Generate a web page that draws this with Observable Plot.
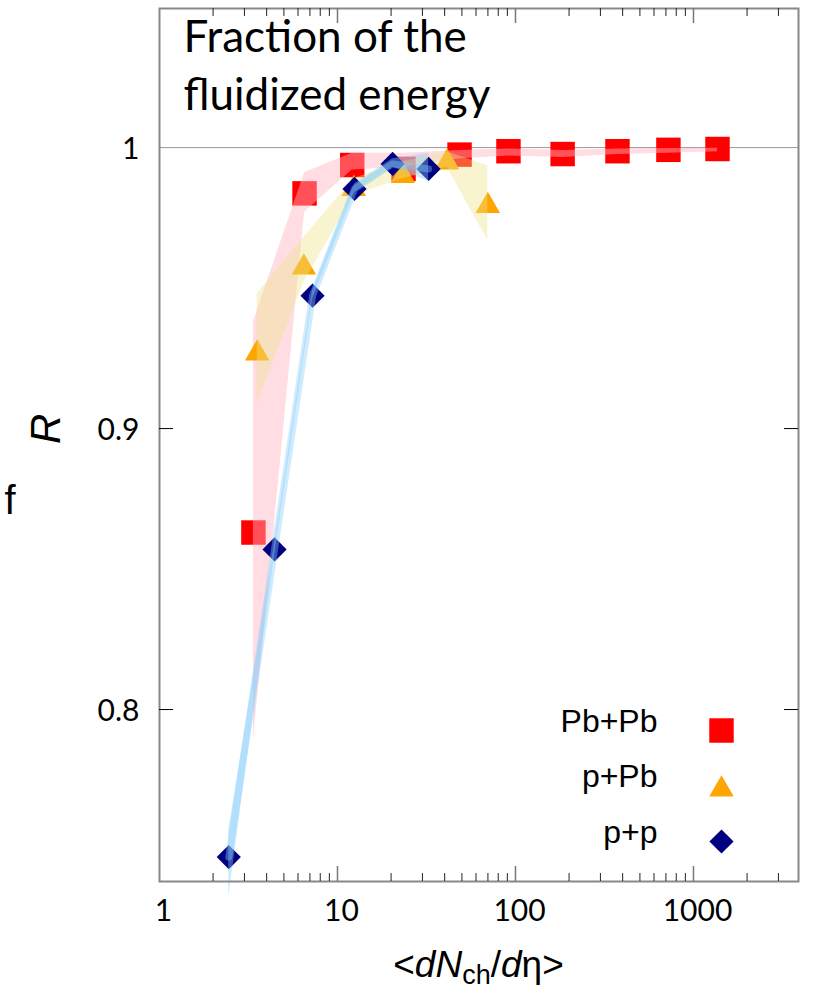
<!DOCTYPE html>
<html><head><meta charset="utf-8">
<script src="https://cdn.jsdelivr.net/npm/d3@7"></script>
<script src="https://cdn.jsdelivr.net/npm/@observablehq/plot@0.6"></script>
<style>body{margin:0;background:#fff} #chart{width:813px;height:993px}</style>
</head><body><div id="chart"></div>
<script>
// ---- data ----
const pbpbX  = [3.37, 6.53, 12.1, 23.5, 48.5, 91.3, 184, 374, 723, 1364];
const pbpbY  = [0.863, 0.9837, 0.9938, 0.9924, 0.9975, 0.9987, 0.9977, 0.9987, 0.9992, 0.9995];
const pbpbLo = [0.789, 0.977, 0.992, 0.993, 0.996, 0.997, 0.9965, 0.9975, 0.998, 0.9985];
const pbpbHi = [0.938, 0.991, 0.998, 0.998, 0.999, 0.9995, 0.999, 0.9995, 0.9997, 0.9998];

const ppbX  = [3.54, 6.47, 12.35, 23.3, 41.3, 69.9];
const ppbY  = [0.928, 0.9586, 0.9865, 0.9912, 0.996, 0.9805];
const ppbLo = [0.909, 0.952, 0.983, 0.989, 0.993, 0.967];
const ppbHi = [0.948, 0.968, 0.989, 0.995, 0.9985, 0.9935];

const ppX  = [2.45, 4.43, 7.24, 12.46, 20.4, 32.5];
const ppY  = [0.7475, 0.857, 0.9473, 0.9853, 0.9942, 0.9924];
const ppLo = [0.733, 0.855, 0.946, 0.984, 0.993, 0.988];
const ppHi = [0.757, 0.859, 0.949, 0.987, 0.996, 0.998];

const seriesNames = ["Pb+Pb", "p+Pb", "p+p"];
const xTickLabels = [1, 10, 100, 1000];
const xMajorTicks = [10, 100, 1000];
const xMinorTicks = [2,3,4,5,6,7,8,9,20,30,40,50,60,70,80,90,200,300,400,500,600,700,800,900,2000,3000];
const yTickLabels = [0.8, 0.9, 1];
const yTicks = [0.8, 0.9];
const refLine = [1];
const titleText = "Fraction of the\nfluidized energy";

// ---- layout / style ----
const W = 813, H = 993;
const mL = 159, mR = 15, mT = 8, mB = 112;
const innerW = W - mL - mR, innerH = H - mT - mB;
const tickFont = "Lato, 'Liberation Sans', sans-serif";
const sansFont = "'Liberation Sans', Arial, sans-serif";

const styles = [
  {symbol: "square",   fill: "#ff0000", r: 13.8, dy: 0,   band: "#ffb3c0", bandOp: 0.45},
  {symbol: "triangle", fill: "#ffa500", r: 9.1,  dy: 3.5, band: "#eee48a", bandOp: 0.40},
  {symbol: "diamond2", fill: "#000080", r: 10.9, dy: 0,   band: "#87cefa", bandOp: 0.40}
];
const seriesData = [
  [pbpbX, pbpbY, pbpbLo, pbpbHi],
  [ppbX, ppbY, ppbLo, ppbHi],
  [ppX, ppY, ppLo, ppHi]
].map(([xs, ys, lo, hi]) => xs.map((x, i) => ({x, y: ys[i], lo: lo[i], hi: hi[i]})));

const seriesMarks = seriesData.flatMap((data, k) => {
  const s = styles[k];
  const marks = [
    Plot.dot(data, {x: "x", y: "y", symbol: () => s.symbol, fill: s.fill, r: s.r, dy: s.dy, stroke: "none"}),
    Plot.areaY(data, {x: "x", y1: "lo", y2: "hi", fill: s.band, fillOpacity: s.bandOp})
  ];
  if (k === 2) marks.push(Plot.line(data, {x: "x", y: "y", stroke: s.band, strokeOpacity: s.bandOp, strokeWidth: 7}));
  return marks;
});

const legendMarks = seriesNames.flatMap((name, i) => [
  Plot.dot([name], {frameAnchor: "bottom-right", dx: -77, dy: -151 + 55.5 * i + styles[i].dy,
    symbol: () => styles[i].symbol, fill: styles[i].fill, r: styles[i].r}),
  Plot.text([name], {frameAnchor: "bottom-right", dx: -141, dy: -150 + 55.5 * i, text: d => d,
    textAnchor: "end", fontSize: 32, fontFamily: sansFont, fill: "#000"})
]);

const chart = Plot.plot({
  width: W, height: H,
  marginLeft: mL, marginRight: mR, marginTop: mT, marginBottom: mB,
  x: {type: "log", domain: [1, 3890], axis: null},
  y: {domain: [0.7388, 1.0495], axis: null},
  style: {background: "#fff", overflow: "visible"},
  marks: [
    Plot.ruleY(refLine, {y: d => d, stroke: "#999", strokeWidth: 1}),
    ...seriesMarks,
    Plot.frame({stroke: "#888", strokeWidth: 2}),
    // bottom ticks (inward)
    Plot.tickX(xMinorTicks, {x: d => d, insetTop: innerH - 8, stroke: "#222"}),
    Plot.tickX(xMajorTicks, {x: d => d, insetTop: innerH - 15, stroke: "#777", strokeWidth: 1.5}),
    // top ticks (inward)
    Plot.tickX(xMinorTicks, {x: d => d, insetBottom: innerH - 8, stroke: "#222"}),
    Plot.tickX(xMajorTicks, {x: d => d, insetBottom: innerH - 15, stroke: "#777", strokeWidth: 1.5}),
    // left / right ticks
    Plot.tickY(yTicks, {y: d => d, insetRight: innerW - 14, stroke: "#000"}),
    Plot.tickY(yTicks, {y: d => d, insetLeft: innerW - 14, stroke: "#000"}),
    // tick labels
    Plot.text(xTickLabels, {x: d => d, frameAnchor: "bottom", dy: 39, dx: 4, text: d => String(d),
      fontSize: 30, fontFamily: tickFont, fill: "#000"}),
    Plot.text(yTickLabels, {y: d => d, frameAnchor: "left", dx: -20, dy: 2, text: d => String(d),
      textAnchor: "end", fontSize: 30, fontFamily: tickFont, fill: "#000"}),
    // y label (R, f)
    Plot.text(["R"], {frameAnchor: "left", dx: -113, dy: -1, rotate: -90, text: d => d,
      fontStyle: "italic", fontSize: 42, fontFamily: sansFont, fill: "#000"}),
    Plot.text(["f"], {frameAnchor: "left", dx: -155, dy: 56, text: d => d,
      fontSize: 40, fontFamily: sansFont, fill: "#000"}),
    // title
    Plot.text([titleText], {frameAnchor: "top-left", dx: 24, dy: 2, text: d => d,
      textAnchor: "start", lineAnchor: "top", lineHeight: 1.32, fontSize: 44, fontFamily: tickFont, fill: "#000"}),
    ...legendMarks
  ]
});
document.getElementById("chart").appendChild(chart);

// x-axis title with italic / subscript parts
const svg = d3.select(chart);
const xs = chart.scale("x");
const cx = (xs.range[0] + xs.range[1]) / 2;
const t = svg.append("text").attr("x", cx).attr("y", 977).attr("text-anchor", "middle")
  .attr("font-family", sansFont).attr("font-size", 37).attr("fill", "#000");
t.append("tspan").text("<");
t.append("tspan").attr("font-style", "italic").text("dN");
t.append("tspan").attr("font-size", 27).attr("dy", 7).text("ch");
t.append("tspan").attr("dy", -7).text("/");
t.append("tspan").attr("font-style", "italic").text("d");
t.append("tspan").text("η>");
</script>
</body></html>
